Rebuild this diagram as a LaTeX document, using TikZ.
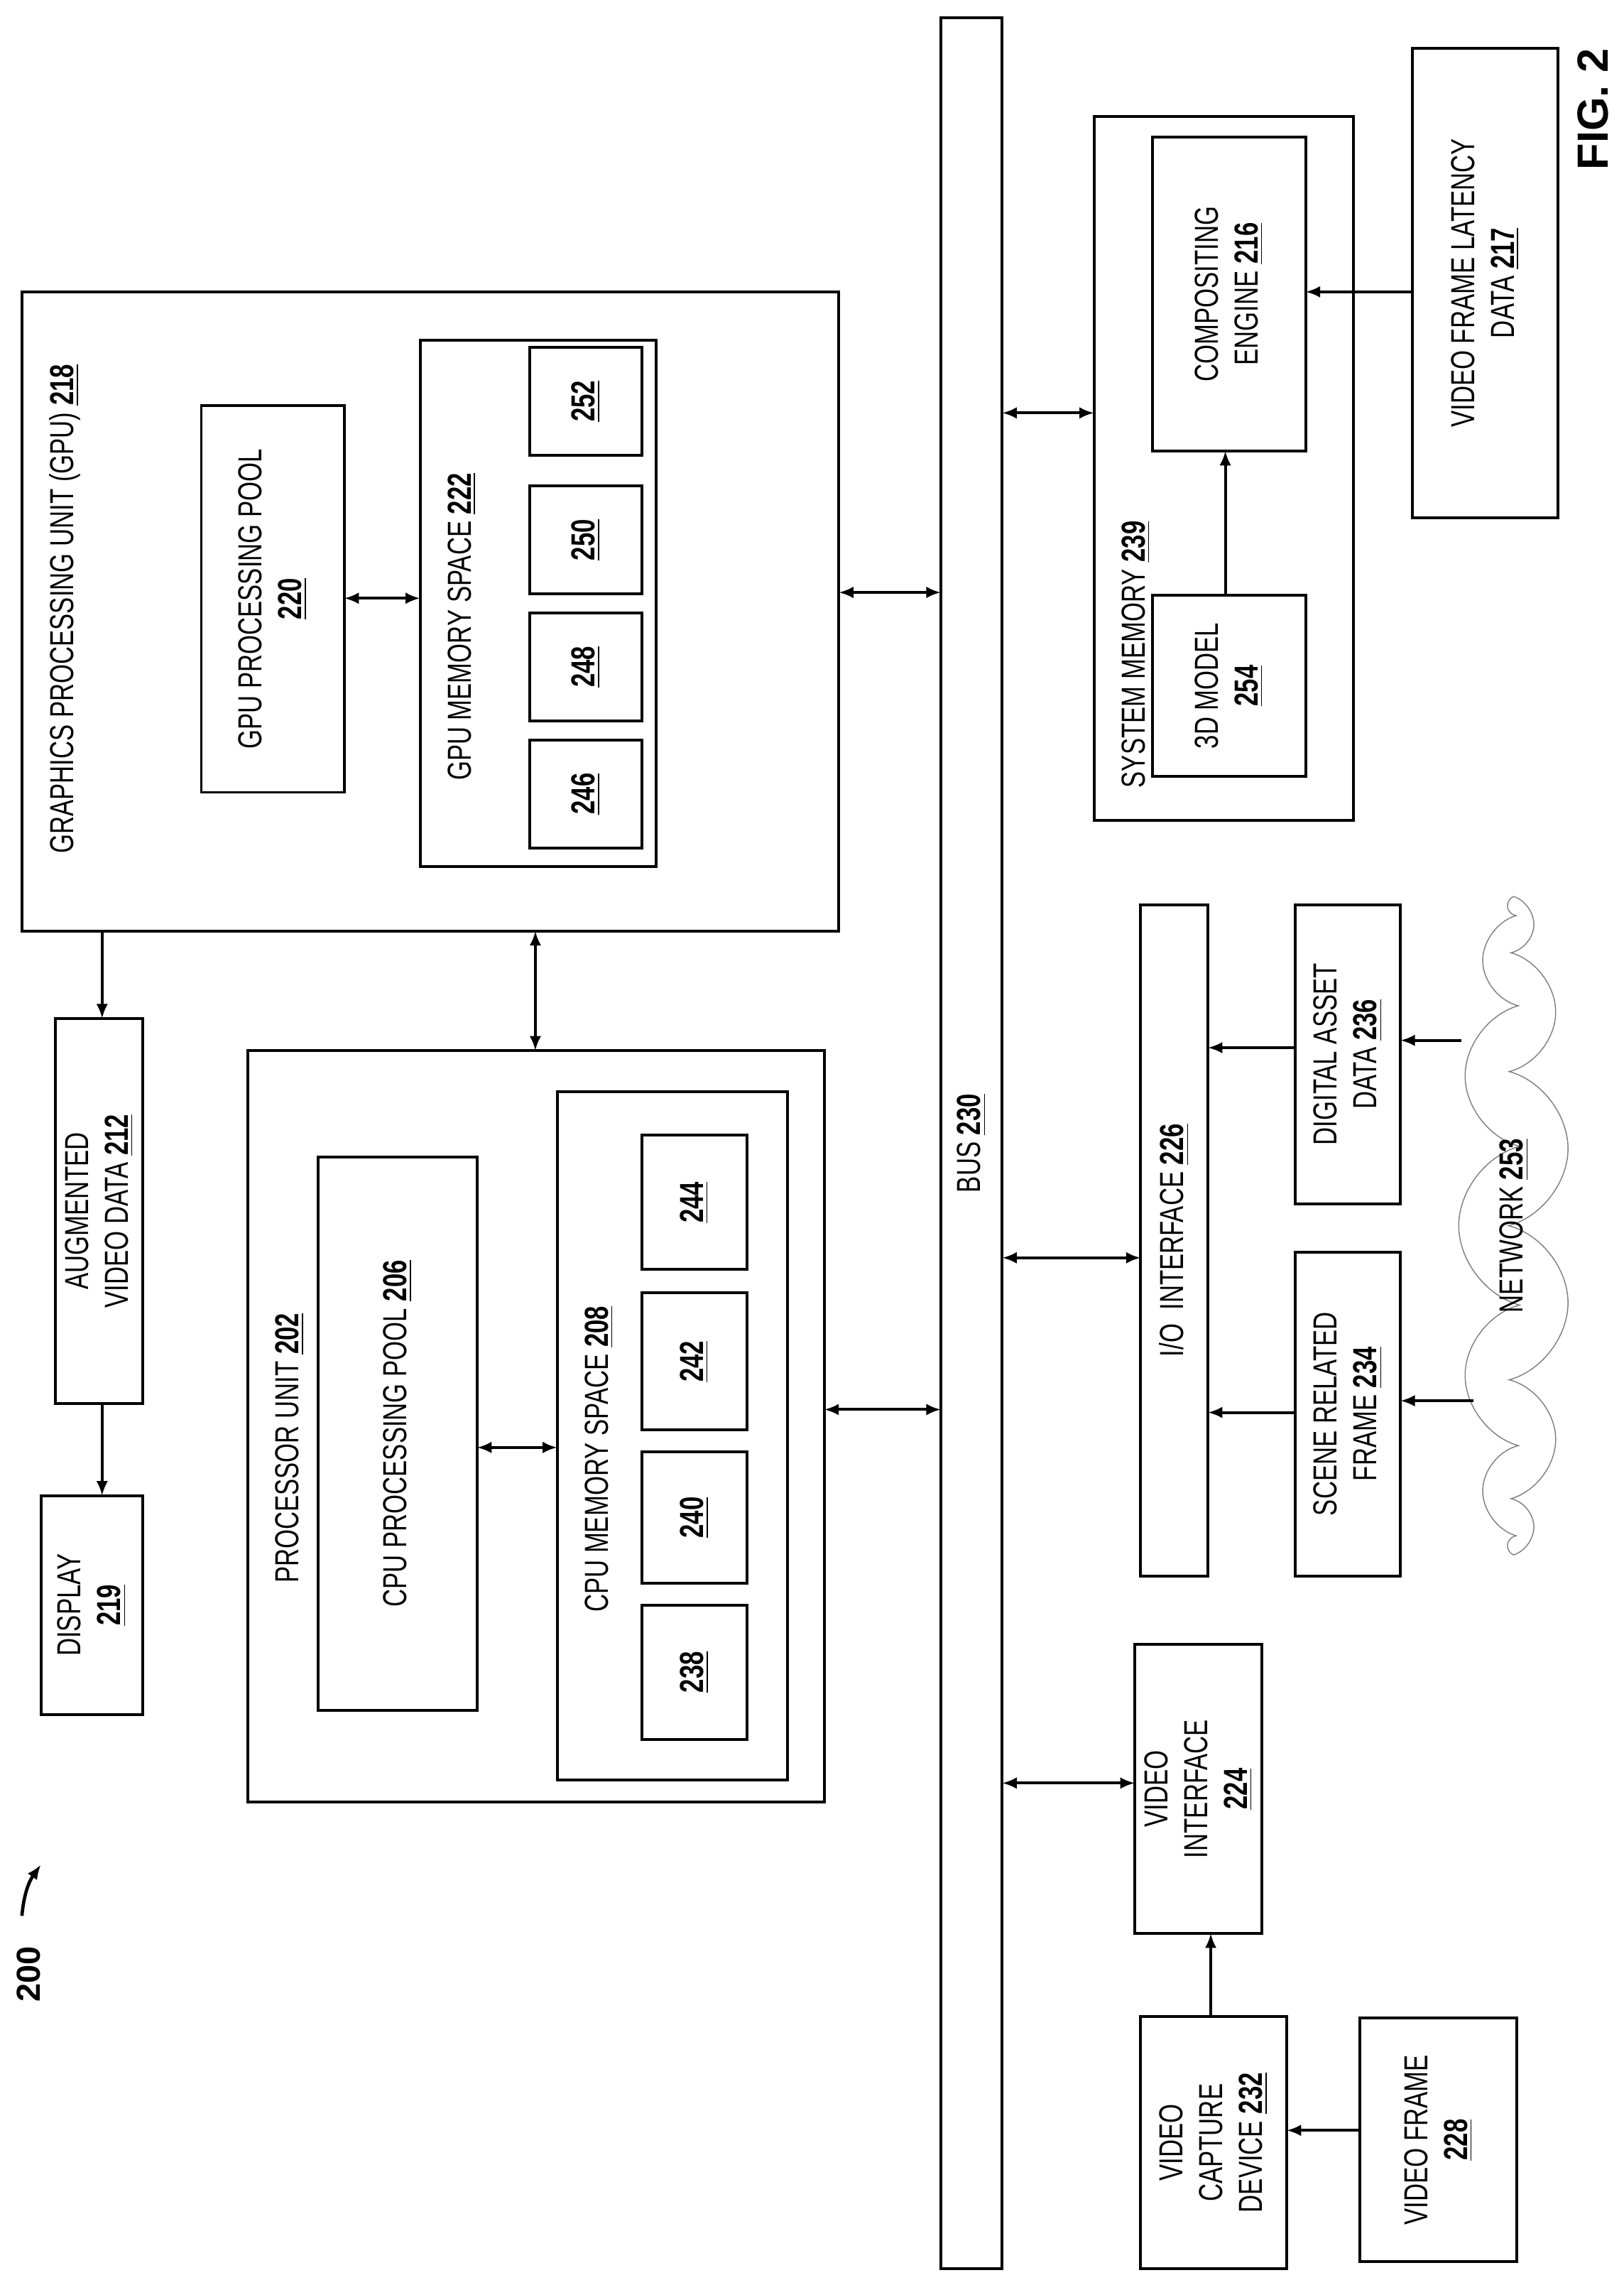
\documentclass[tikz,border=0pt]{standalone}
\usepackage{fontspec}
\setmainfont{Liberation Sans}
\usetikzlibrary{arrows.meta,shapes.symbols}
\newcommand{\rn}[1]{\textbf{\underline{#1}}}
\begin{document}
\begin{tikzpicture}[x=0.02cm, y=-0.02cm, line width=1.1pt,
    box/.style 2 args={draw, inner sep=0pt, outer sep=0pt,
      minimum width=#1*0.02cm, minimum height=#2*0.02cm},
    lbl/.style={rotate=90, xscale=0.74, align=center,
      font=\fontsize{13}{15.5}\selectfont},
    arr/.style={-{Latex[length=0.2cm,width=0.16cm]}},
    biarr/.style={{Latex[length=0.2cm,width=0.16cm]}-{Latex[length=0.2cm,width=0.16cm]}}]
  \useasboundingbox (0,0) rectangle (1113,1566);

  % GPU
  \node[box={560}{438}] (gpu) at (295,419) {};
  \node[lbl, anchor=north west] at ([shift={(12,-48)}]gpu.south west) {GRAPHICS PROCESSING UNIT (GPU) \rn{218}};
  \node[box={98}{265}] (gpupool) at (187,410.5) {};
  \node[lbl] at (gpupool) {GPU PROCESSING POOL\\\rn{220}};
  \node[box={162}{361}] (gpumem) at (369,413.5) {};
  \node[lbl, anchor=north west] at ([shift={(12,-54)}]gpumem.south west) {GPU MEMORY SPACE \rn{222}};
  \node[box={77}{74}] (m246) at (401.5,544) {}; \node[lbl] at (m246) {\rn{246}};
  \node[box={77}{74}] (m248) at (401.5,457) {}; \node[lbl] at (m248) {\rn{248}};
  \node[box={77}{74}] (m250) at (401.5,370) {}; \node[lbl] at (m250) {\rn{250}};
  \node[box={77}{74}] (m252) at (401.5,275) {}; \node[lbl] at (m252) {\rn{252}};

  % Output side
  \node[box={60}{264}] (aug) at (68,830) {};
  \node[lbl] at (aug) {AUGMENTED\\VIDEO DATA \rn{212}};
  \node[box={70}{150}] (disp) at (63,1100) {};
  \node[lbl] at (disp) {DISPLAY\\\rn{219}};

  % Processor
  \node[box={395}{515}] (proc) at (367.5,977.5) {};
  \node[lbl, anchor=north west] at ([shift={(12,-145)}]proc.south west) {PROCESSOR UNIT \rn{202}};
  \node[box={109}{379}] (cpupool) at (272.5,982.5) {};
  \node[lbl] at (cpupool) {CPU PROCESSING POOL \rn{206}};
  \node[box={158}{472}] (cpumem) at (461,984) {};
  \node[lbl, anchor=north west] at ([shift={(12,-110)}]cpumem.south west) {CPU MEMORY SPACE \rn{208}};
  \node[box={72}{92}] (m238) at (476,1146) {}; \node[lbl] at (m238) {\rn{238}};
  \node[box={72}{90}] (m240) at (476,1040) {}; \node[lbl] at (m240) {\rn{240}};
  \node[box={72}{94}] (m242) at (476,933) {}; \node[lbl] at (m242) {\rn{242}};
  \node[box={72}{92}] (m244) at (476,824) {}; \node[lbl] at (m244) {\rn{244}};

  % Bus
  \node[box={42}{1543}] (bus) at (666,783.5) {};
  \node[lbl] at (bus) {BUS \rn{230}};

  % System memory
  \node[box={178}{482}] (sysmem) at (839,321) {};
  \node[lbl, anchor=north west] at ([shift={(12,-17)}]sysmem.south west) {SYSTEM MEMORY \rn{239}};
  \node[box={105}{215}] (comp) at (842.5,201.5) {};
  \node[lbl] at (comp) {COMPOSITING\\ENGINE \rn{216}};
  \node[box={105}{124}] (model) at (842.5,470) {};
  \node[lbl] at (model) {3D MODEL\\\rn{254}};
  \node[box={100}{322}] (vfl) at (1018,194) {};
  \node[lbl] at (vfl) {VIDEO FRAME LATENCY\\DATA \rn{217}};

  % I/O
  \node[box={46}{460}] (io) at (805,850) {};
  \node[lbl] at (io) {I/O\ \ INTERFACE \rn{226}};
  \node[box={72}{205}] (asset) at (924,722.5) {};
  \node[lbl] at (asset) {DIGITAL ASSET\\DATA \rn{236}};
  \node[box={72}{222}] (scene) at (924,969) {};
  \node[lbl] at (scene) {SCENE RELATED\\FRAME \rn{234}};
  \node[cloud, draw=gray, line width=0.4pt, cloud puffs=13, aspect=5.8,
    minimum width=440*0.02cm, minimum height=76*0.02cm, rotate=90] (net) at (1038,840) {};
  \node[lbl] at (net) {NETWORK \rn{253}};
  \coordinate (netA) at (1002,713);
  \coordinate (netB) at (1010,960);

  % Video
  \node[box={87}{198}] (vidif) at (821.5,1226) {};
  \node[lbl] at (vidif) {VIDEO\\INTERFACE\\\rn{224}};
  \node[box={100}{173}] (cap) at (832,1468.5) {};
  \node[lbl] at (cap) {VIDEO\\CAPTURE\\DEVICE \rn{232}};
  \node[box={108}{167}] (vframe) at (986,1466.5) {};
  \node[lbl] at (vframe) {VIDEO FRAME\\\rn{228}};

  % Connectors
  \draw[biarr] (gpu.east |- 0,406) -- (bus.west |- 0,406);
  \draw[biarr] (gpupool.east |- 0,410) -- (gpumem.west |- 0,410);
  \draw[arr] (70,0 |- gpu.south) -- (70,0 |- aug.north);
  \draw[arr] (70,0 |- aug.south) -- (70,0 |- disp.north);
  \draw[biarr] (367,0 |- gpu.south) -- (367,0 |- proc.north);
  \draw[biarr] (cpupool.east |- 0,992) -- (cpumem.west |- 0,992);
  \draw[biarr] (proc.east |- 0,966) -- (bus.west |- 0,966);
  \draw[biarr] (bus.east |- 0,283) -- (sysmem.west |- 0,283);
  \draw[biarr] (bus.east |- 0,862) -- (io.west |- 0,862);
  \draw[biarr] (bus.east |- 0,1222) -- (vidif.west |- 0,1222);
  \draw[arr] (840,0 |- model.north) -- (840,0 |- comp.south);
  \draw[arr] (vfl.west |- 0,200) -- (comp.east |- 0,200);
  \draw[arr] (asset.west |- 0,718) -- (io.east |- 0,718);
  \draw[arr] (scene.west |- 0,968) -- (io.east |- 0,968);
  \draw[arr] (netA) -- (asset.east |- netA);
  \draw[arr] (netB) -- (scene.east |- netB);
  \draw[arr] (830,0 |- cap.north) -- (830,0 |- vidif.south);
  \draw[arr] (vframe.west |- 0,1460) -- (cap.east |- 0,1460);

  % Figure labels
  \node[rotate=90, font=\fontsize{17}{20}\selectfont\bfseries] (fig) at (1092,75) {FIG. 2};
  \node[rotate=90, font=\fontsize{13}{15}\selectfont\bfseries] (ref) at (19.5,1353) {200};
  \coordinate (refA) at (15,1313);
  \coordinate (refB) at (28,1278);
  \draw[arr, line width=1.3pt] (refA) to[bend left=15] (refB);
\end{tikzpicture}
\end{document}
